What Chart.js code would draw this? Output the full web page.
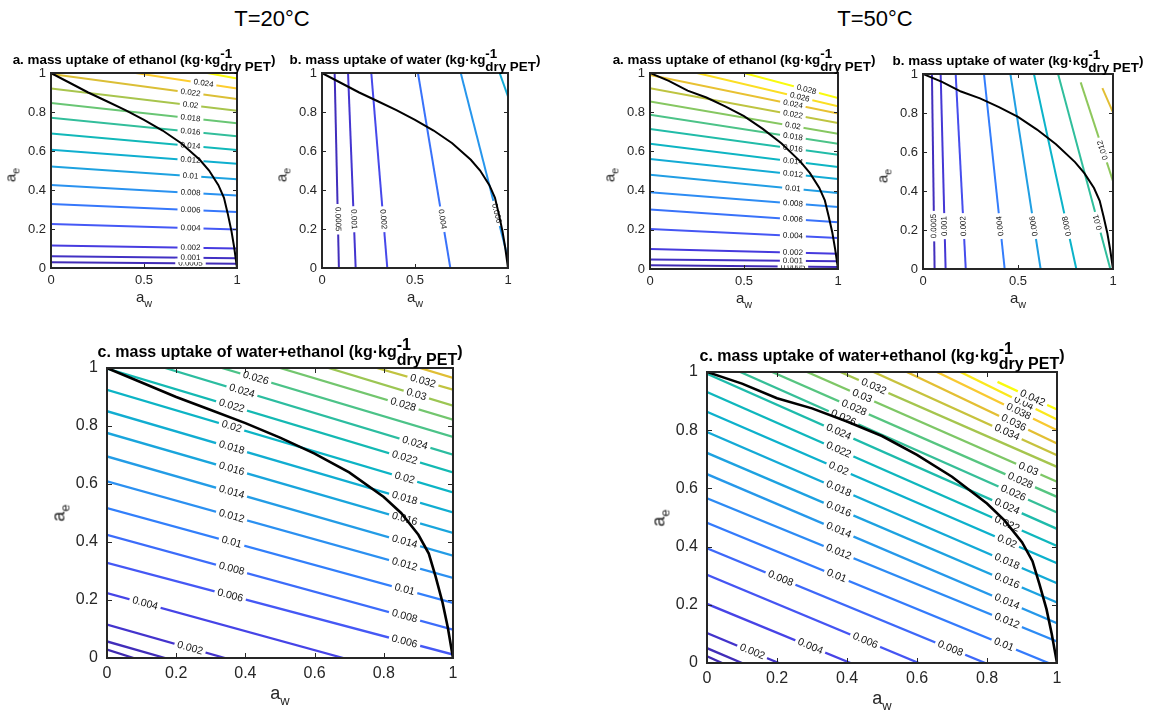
<!DOCTYPE html>
<html>
<head>
<meta charset="utf-8">
<script src="https://cdn.jsdelivr.net/npm/chart.js@4.4.1/dist/chart.umd.min.js"></script>
<style>
body { margin:0; background:#fff; width:1151px; height:711px; overflow:hidden; position:relative;
       font-family:"Liberation Sans", Arial, sans-serif; color:#000; }
canvas.pl { position:absolute; }
.big { position:absolute; font-size:22px; transform:translateX(-50%); white-space:nowrap; line-height:1; }
.hd { position:absolute; transform:translateX(-50%); font-weight:bold; white-space:nowrap; line-height:1; }
.ss { display:inline-block; vertical-align:-0.5em; line-height:0.95; }
.ss span { display:block; }
.xl, .yl { position:absolute; white-space:nowrap; color:#262626; line-height:1; }
.xl { transform:translate(-50%,-50%); }
.yl { transform:translate(-50%,-50%) rotate(-90deg); }
.xl sub, .yl sub { font-size:0.72em; vertical-align:-0.4em; }
</style>
</head>
<body>

<div class="big" style="left:272px;top:8px">T=20°C</div>
<div class="big" style="left:875px;top:8px">T=50°C</div>

<script>
// phase boundary (a_w, a_e)
var boundary20 = [[0,1],[0.1,0.95],[0.2,0.9],[0.3,0.855],[0.4,0.81],[0.5,0.76],[0.6,0.705],[0.7,0.64],
                  [0.8,0.555],[0.85,0.5],[0.9,0.425],[0.93,0.36],[0.95,0.28],[0.97,0.19],[0.985,0.105],[1,0]];
var boundary50 = [[0,1],[0.1,0.96],[0.2,0.91],[0.3,0.875],[0.4,0.83],[0.5,0.78],[0.6,0.715],[0.7,0.64],
                  [0.8,0.548],[0.85,0.49],[0.9,0.415],[0.93,0.35],[0.95,0.27],[0.97,0.185],[0.985,0.1],[1,0]];

// a. ethanol uptake, 20 C
var levelsA20 = [0.0005,0.001,0.002,0.004,0.006,0.008,0.01,0.012,0.014,0.016,0.018,0.02,0.022,0.024,0.026];
var pathsA20 = [
  [[0,0.029],[1,0.022]], [[0,0.06],[1,0.05]], [[0,0.115],[1,0.1]], [[0,0.226],[1,0.197]],
  [[0,0.328],[1,0.287]], [[0,0.426],[1,0.372]], [[0,0.52],[1,0.455]], [[0,0.607],[1,0.535]],
  [[0,0.69],[1,0.605]], [[0,0.77],[1,0.675]], [[0,0.846],[1,0.742]], [[0,0.92],[1,0.807]],
  [[0,0.995],[1,0.866]], [[0.455,1],[1,0.92]], [[0.84,1],[1,0.972]]
];
var labelsA20 = [[0.75],[0.75],[0.75],[0.75],[0.75],[0.75],[0.75],[0.75],[0.75],[0.75],[0.75],[0.75],[0.75],[0.82],[]];

// b. water uptake, 20 C (label positions along a_e)
var levelsB20 = [0.0005,0.001,0.002,0.004,0.006,0.008];
var pathsB20 = [
  [[0.091,0],[0.068,1]], [[0.181,0],[0.14,1]], [[0.351,0],[0.265,1]],
  [[0.69,0],[0.516,1]], [[1,0.05],[0.746,1]], [[1,0.88],[0.955,1]]
];
var labelsB20 = [[0.25],[0.25],[0.25],[0.25],[0.28],[]];

// a. ethanol uptake, 50 C
var levelsA50 = [0.0005,0.001,0.002,0.004,0.006,0.008,0.01,0.012,0.014,0.016,0.018,0.02,0.022,0.024,0.026,0.028];
var pathsA50 = [
  [[0,0.019],[1,0.01]], [[0,0.048],[1,0.039]], [[0,0.102],[1,0.078]], [[0,0.204],[1,0.158]],
  [[0,0.303],[1,0.238]], [[0,0.391],[1,0.316]], [[0,0.481],[1,0.388]], [[0,0.561],[1,0.459]],
  [[0,0.639],[1,0.52]], [[0,0.714],[1,0.583]], [[0,0.787],[1,0.639]], [[0,0.855],[1,0.69]],
  [[0,0.922],[1,0.745]], [[0,0.99],[1,0.793]], [[0.25,1],[1,0.83]], [[0.5,1],[1,0.872]]
];
var labelsA50 = [[0.76],[0.76],[0.76],[0.76],[0.76],[0.76],[0.76],[0.76],[0.76],[0.76],[0.76],[0.76],[0.76],[0.76],[0.796],[0.832]];

// b. water uptake, 50 C
var levelsB50 = [0.0005,0.001,0.002,0.004,0.006,0.008,0.01,0.012,0.014];
var pathsB50 = [
  [[0.061,0],[0.047,1]], [[0.119,0],[0.093,1]], [[0.225,0],[0.172,1]], [[0.43,0],[0.321,1]],
  [[0.619,0],[0.46,1]], [[0.807,0],[0.584,1]], [[0.986,0],[0.711,1]],
  [[1,0.45],[0.83,0.957]], [[1,0.803],[0.944,0.928]]
];
var labelsB50 = [[0.22],[0.22],[0.22],[0.22],[0.22],[0.22],[0.24],[0.61],[]];

// c. water+ethanol uptake, 20 C
var levelsC20 = [0.0005,0.001,0.002,0.004,0.006,0.008,0.01,0.012,0.014,0.016,0.018,0.02,0.022,0.024,0.026,0.028,0.03,0.032,0.034];
var pathsC20 = [
  [[0,0.029],[0.077,0]], [[0,0.057],[0.168,0]], [[0,0.115],[0.341,0]], [[0,0.224],[0.683,0]],
  [[0,0.328],[1,0.012]], [[0,0.425],[1,0.098]], [[0,0.517],[1,0.19]], [[0,0.609],[1,0.276]],
  [[0,0.695],[1,0.353]], [[0,0.776],[1,0.431]], [[0,0.851],[1,0.502]], [[0,0.925],[1,0.571]],
  [[0,0.998],[1,0.64]], [[0.168,1],[1,0.701]], [[0.332,1],[1,0.762]], [[0.5,1],[1,0.822]],
  [[0.64,1],[1,0.87]], [[0.78,1],[1,0.925]], [[0.904,1],[1,0.966]]
];
var labelsC20 = [[],[],[0.24],[0.11],[0.356,0.86],[0.36,0.86],[0.36,0.86],[0.36,0.86],[0.36,0.86],
                 [0.36,0.86],[0.36,0.86],[0.36,0.86],[0.36,0.86],[0.39,0.89],[0.43],[0.856],[0.894],[0.913],[]];

// c. water+ethanol uptake, 50 C
var levelsC50 = [0.0005,0.001,0.002,0.004,0.006,0.008,0.01,0.012,0.014,0.016,0.018,0.02,0.022,0.024,
                 0.026,0.028,0.03,0.032,0.034,0.036,0.038,0.04,0.042];
var pathsC50 = [
  [[0,0.023],[0.043,0]], [[0,0.051],[0.1,0]], [[0,0.103],[0.205,0]], [[0,0.203],[0.41,0]],
  [[0,0.303],[0.605,0]], [[0,0.394],[0.795,0]], [[0,0.482],[0.976,0]], [[0,0.566],[1,0.074]],
  [[0,0.649],[1,0.137]], [[0,0.722],[1,0.208]], [[0,0.794],[1,0.274]], [[0,0.863],[1,0.343]],
  [[0,0.931],[1,0.402]], [[0,0.994],[1,0.461]], [[0.095,1],[1,0.517]], [[0.186,1],[1,0.571]],
  [[0.286,1],[1,0.623]], [[0.381,1],[1,0.674]], [[0.476,1],[1,0.714]], [[0.571,1],[1,0.754]],
  [[0.657,1],[1,0.8]], [[0.724,1],[1,0.837]], [[0.83,0.966],[1,0.871]]
];
var labelsC50 = [[],[],[0.129],[0.295],[0.452],[0.21,0.695],[0.37,0.848],[0.376,0.857],[0.376,0.857],
                 [0.376,0.857],[0.376,0.857],[0.376,0.857],[0.376,0.857],[0.376,0.857],[0.39,0.875],
                 [0.42,0.895],[0.443,0.918],[0.476],[0.857],[0.876],[0.89],[0.905],[0.93]];

var FONT = '"Liberation Sans", Arial, sans-serif';

// parula-like colormap
var stops = [[0,62,38,168],[0.08,71,60,225],[0.16,69,90,247],[0.25,51,125,252],[0.31,43,145,241],
             [0.375,32,159,227],[0.44,20,170,214],[0.5,11,179,201],[0.56,18,185,181],[0.625,48,190,156],
             [0.69,91,198,125],[0.75,142,199,92],[0.81,187,196,65],[0.875,226,190,51],[0.94,253,204,48],[1,249,251,14]];
function parula(t) {
    t = Math.max(0, Math.min(1, t));
    for(var i = 0; i < stops.length - 1; i++) {
        var a = stops[i], b = stops[i + 1];
        if(t <= b[0]) {
            var f = (t - a[0]) / (b[0] - a[0]);
            return 'rgb(' + [1,2,3].map(function(k) { return Math.round(a[k] + f * (b[k] - a[k])); }).join(',') + ')';
        }
    }
    return 'rgb(249,251,14)';
}

var panels = [
    {kind:'a', levels:levelsA20, paths:pathsA20, labels:labelsA20, axis:'x', boundary:boundary20, cmax:0.0255, box:[51,73,186,195], small:true},
    {kind:'b', levels:levelsB20, paths:pathsB20, labels:labelsB20, axis:'y', boundary:boundary20, cmax:0.018, box:[322,73,186,195], small:true},
    {kind:'a', levels:levelsA50, paths:pathsA50, labels:labelsA50, axis:'x', boundary:boundary50, cmax:0.027, box:[650,73,188,196], small:true},
    {kind:'b', levels:levelsB50, paths:pathsB50, labels:labelsB50, axis:'y', boundary:boundary50, cmax:0.016, box:[923,74,190,195], small:true, flip:true},
    {kind:'c', levels:levelsC20, paths:pathsC20, labels:labelsC20, axis:'x', boundary:boundary20, cmax:0.039, box:[107,368,346,290]},
    {kind:'c', levels:levelsC50, paths:pathsC50, labels:labelsC50, axis:'x', boundary:boundary50, cmax:0.041, box:[707,372,350,291]}
];

var headings = {
    a: 'a. mass uptake of ethanol (kg·kg',
    b: 'b. mass uptake of water (kg·kg',
    c: 'c. mass uptake of water+ethanol (kg·kg'
};

function findPoint(pts, axis, v) {
    var k = axis == 'x' ? 0 : 1;
    for(var i = 0; i < pts.length - 1; i++) {
        var a = pts[i], b = pts[i + 1];
        var lo = Math.min(a[k], b[k]), hi = Math.max(a[k], b[k]);
        if(hi > lo && v >= lo && v <= hi) {
            var t = (v - a[k]) / (b[k] - a[k]);
            return {x: a[0] + t * (b[0] - a[0]), y: a[1] + t * (b[1] - a[1]), a: a, b: b};
        }
    }
    return null;
}

function addText(cls, html, x, y, size) {
    var d = document.createElement('div');
    d.className = cls;
    d.innerHTML = html;
    d.style.left = x + 'px';
    d.style.top = y + 'px';
    d.style.fontSize = size + 'px';
    document.body.appendChild(d);
}

function makePanel(p) {
    var padL = p.small ? 40 : 46, padT = 24, padR = 12, padB = 30;
    var W = p.box[2] + padL + padR, H = p.box[3] + padT + padB;
    var cv = document.createElement('canvas');
    cv.className = 'pl';
    cv.width = W; cv.height = H;
    cv.style.left = (p.box[0] - padL) + 'px';
    cv.style.top = (p.box[1] - padT) + 'px';
    cv.style.width = W + 'px'; cv.style.height = H + 'px';
    document.body.appendChild(cv);

    var tickFont = p.small ? 13 : 16;
    var labFont = p.small ? 8 : 10.5;
    var tickLen = p.small ? 4 : 5;
    var lineW = p.small ? 2 : 2.3;

    // dataset 0 (boundary) is drawn last, on top of labels
    var ds = [{
        data: p.boundary.map(function(q) { return {x: q[0], y: q[1]}; }),
        borderColor: '#000', borderWidth: p.small ? 2 : 2.6
    }];
    p.levels.forEach(function(lv, i) {
        ds.push({
            data: p.paths[i].map(function(q) { return {x: q[0], y: q[1]}; }),
            borderColor: parula(lv / p.cmax), borderWidth: lineW
        });
    });

    var panelPlugin = {
        id: 'panel',
        beforeDatasetDraw: function(chart, args) {
            if(args.index !== 0) return;
            var ctx = chart.ctx, xs = chart.scales.x, ys = chart.scales.y, ca = chart.chartArea;
            ctx.save();
            ctx.beginPath();
            ctx.rect(ca.left, ca.top, ca.right - ca.left, ca.bottom - ca.top);
            ctx.clip();
            ctx.font = labFont + 'px ' + FONT;
            ctx.textAlign = 'center';
            ctx.textBaseline = 'middle';
            p.levels.forEach(function(lv, i) {
                p.labels[i].forEach(function(v) {
                    var f = findPoint(p.paths[i], p.axis, v);
                    if(!f) return;
                    var px = xs.getPixelForValue(f.x), py = ys.getPixelForValue(f.y);
                    var dx = xs.getPixelForValue(f.b[0]) - xs.getPixelForValue(f.a[0]);
                    var dy = ys.getPixelForValue(f.b[1]) - ys.getPixelForValue(f.a[1]);
                    var ang = Math.atan2(dy, dx);
                    if(ang > Math.PI / 2) ang -= Math.PI;
                    if(ang < -Math.PI / 2) ang += Math.PI;
                    if(p.flip) ang += Math.PI;
                    var txt = String(lv);
                    var w = ctx.measureText(txt).width;
                    ctx.save();
                    ctx.translate(px, py);
                    ctx.rotate(ang);
                    ctx.fillStyle = '#fff';
                    ctx.fillRect(-w / 2 - 3, -labFont * 0.55, w + 6, labFont * 1.1);
                    ctx.fillStyle = '#111';
                    ctx.fillText(txt, 0, 0);
                    ctx.restore();
                });
            });
            ctx.restore();
        },
        afterDraw: function(chart) {
            var ctx = chart.ctx, xs = chart.scales.x, ys = chart.scales.y, ca = chart.chartArea;
            ctx.save();
            ctx.strokeStyle = '#262626';
            ctx.lineWidth = 1;
            ctx.beginPath();
            xs.ticks.forEach(function(t) {
                var x = Math.round(xs.getPixelForValue(t.value)) + 0.5;
                ctx.moveTo(x, ca.bottom); ctx.lineTo(x, ca.bottom - tickLen);
                ctx.moveTo(x, ca.top); ctx.lineTo(x, ca.top + tickLen);
            });
            ys.ticks.forEach(function(t) {
                var y = Math.round(ys.getPixelForValue(t.value)) + 0.5;
                ctx.moveTo(ca.left, y); ctx.lineTo(ca.left + tickLen, y);
                ctx.moveTo(ca.right, y); ctx.lineTo(ca.right - tickLen, y);
            });
            ctx.stroke();
            ctx.lineWidth = 2;
            ctx.strokeRect(ca.left, ca.top, ca.right - ca.left, ca.bottom - ca.top);
            ctx.restore();
        }
    };

    new Chart(cv, {
        type: 'scatter',
        data: {datasets: ds},
        options: {
            responsive: false,
            animation: false,
            showLine: true,
            events: [],
            layout: {padding: {top: padT, right: padR, left: 0, bottom: 0}},
            elements: {point: {radius: 0}, line: {tension: 0, fill: false}},
            plugins: {legend: {display: false}, tooltip: {enabled: false}},
            scales: {
                x: {
                    type: 'linear', min: 0, max: 1,
                    grid: {display: false, drawTicks: false}, border: {display: false},
                    ticks: {stepSize: p.small ? 0.5 : 0.2, autoSkip: false, maxRotation: 0, padding: p.small ? 5 : 6,
                            color: '#262626', font: {size: tickFont, family: FONT},
                            callback: function(v) { return String(+v.toFixed(2)); }},
                    afterFit: function(s) { s.height = padB; }
                },
                y: {
                    type: 'linear', min: 0, max: 1,
                    grid: {display: false, drawTicks: false}, border: {display: false},
                    ticks: {stepSize: 0.2, autoSkip: false, padding: p.small ? 5 : 9,
                            color: '#262626', font: {size: tickFont, family: FONT},
                            callback: function(v) { return String(+v.toFixed(2)); }},
                    afterFit: function(s) { s.width = padL; }
                }
            }
        },
        plugins: [panelPlugin]
    });

    // heading and axis titles
    var cx = p.box[0] + p.box[2] / 2;
    var hdHtml = headings[p.kind] + '<span class="ss"><span>-1</span><span>dry PET</span></span>)';
    if(p.small) {
        addText('hd', hdHtml, cx, p.box[1] - 25, 13.4);
        addText('xl', 'a<sub>w</sub>', cx, p.box[1] + p.box[3] + 31, 15);
        addText('yl', 'a<sub>e</sub>', p.box[0] - 39, p.box[1] + 102, 15);
    }
    else {
        addText('hd', hdHtml, cx, p.box[1] - 31, 16);
        addText('xl', 'a<sub>w</sub>', cx, p.box[1] + p.box[3] + 38, 18);
        addText('yl', 'a<sub>e</sub>', p.box[0] - 46, p.box[1] + p.box[3] / 2, 18);
    }
}

panels.forEach(makePanel);
</script>
</body>
</html>
